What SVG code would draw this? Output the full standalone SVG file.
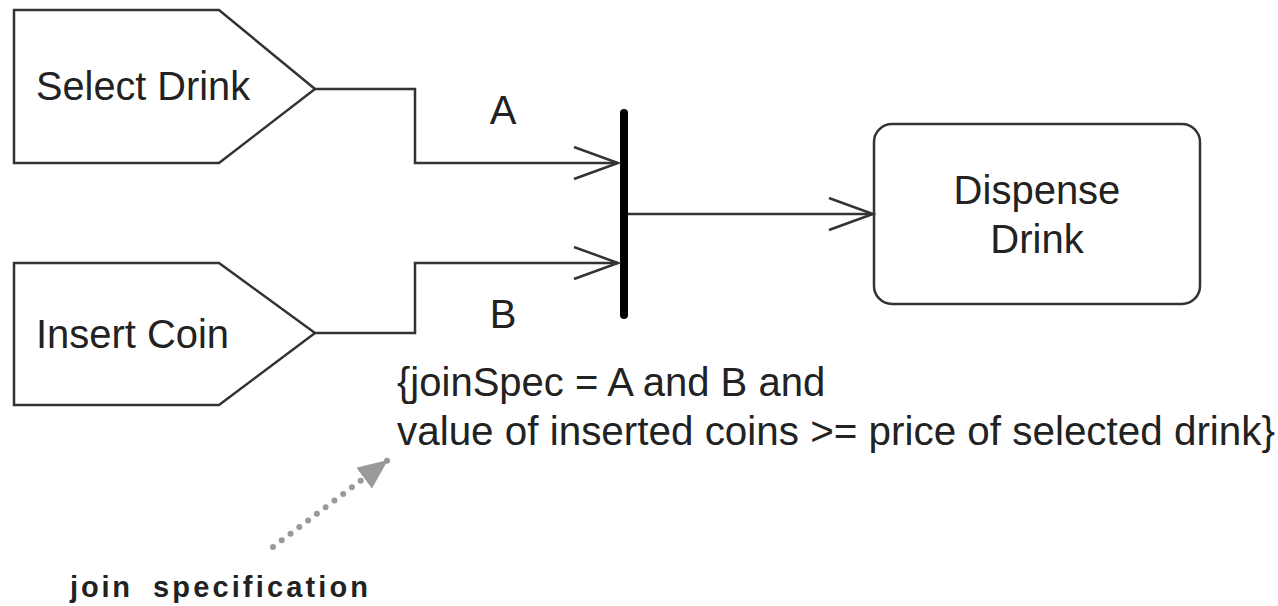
<svg xmlns="http://www.w3.org/2000/svg" width="1278" height="606" viewBox="0 0 1278 606">
<style>
.shape{fill:#fff;stroke:#333;stroke-width:2.5}
.edge{fill:none;stroke:#333;stroke-width:2.5}
.t{font-family:"Liberation Sans",Arial,sans-serif;font-size:40px;fill:#222}
.b{font-family:"Liberation Sans",Arial,sans-serif;font-size:29px;font-weight:bold;fill:#222}
</style>
<defs>
<marker id="open" markerUnits="userSpaceOnUse" markerWidth="50" markerHeight="40" refX="46" refY="17" orient="auto">
<path d="M2,1 L46,17 L2,33" fill="none" stroke="#333" stroke-width="2.5"/>
</marker>
<marker id="grayfill" markerUnits="userSpaceOnUse" markerWidth="40" markerHeight="40" refX="30" refY="13" orient="auto">
<path d="M0,0 L30,13 L0,26 Z" fill="#999"/>
</marker>
</defs>
<rect width="1278" height="606" fill="#fff"/>
<g id="select-drink">
<polygon class="shape" points="14,10 219,10 315,89 219,163 14,163"/>
<text class="t" x="36" y="100" textLength="214" lengthAdjust="spacingAndGlyphs">Select Drink</text>
</g>
<g id="insert-coin">
<polygon class="shape" points="14,263 219,263 315,333 219,405 14,405"/>
<text class="t" x="36" y="348" textLength="193" lengthAdjust="spacingAndGlyphs">Insert Coin</text>
</g>
<g id="join-bar">
<line x1="624" y1="113" x2="624" y2="315" stroke="#000" stroke-width="8" stroke-linecap="round"/>
</g>
<g id="dispense-drink">
<rect class="shape" x="874" y="124" width="326" height="180" rx="18" ry="18"/>
<text class="t" x="1037" y="204" text-anchor="middle">Dispense</text>
<text class="t" x="1037" y="253" text-anchor="middle">Drink</text>
</g>
<g id="connectors">
<polyline class="edge" points="315,89 415,89 415,163 618,163" marker-end="url(#open)"/>
<polyline class="edge" points="315,333 415,333 415,263 618,263" marker-end="url(#open)"/>
<line class="edge" x1="628" y1="214" x2="873" y2="214" marker-end="url(#open)"/>
<text class="t" x="503" y="124" text-anchor="middle">A</text>
<text class="t" x="503" y="328" text-anchor="middle">B</text>
<line x1="273" y1="547" x2="388" y2="460" stroke="#999" stroke-width="6" stroke-linecap="round" stroke-dasharray="0 11" marker-end="url(#grayfill)"/>
</g>
<g id="join-spec">
<text class="t" x="397" y="396">{joinSpec = A and B and</text>
<text class="t" x="397" y="445" textLength="878" lengthAdjust="spacingAndGlyphs">value of inserted coins &gt;= price of selected drink}</text>
</g>
<g id="join-spec-label">
<text class="b" y="597"><tspan x="70" textLength="60" lengthAdjust="spacing">join</tspan><tspan x="153" textLength="215" lengthAdjust="spacing">specification</tspan></text>
</g>
</svg>
